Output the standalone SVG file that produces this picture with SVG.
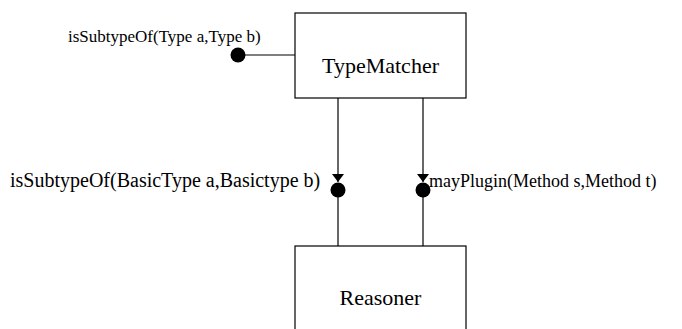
<svg xmlns="http://www.w3.org/2000/svg" width="682" height="329" viewBox="0 0 682 329">
<style>
.box{fill:#fff;stroke:#000;stroke-width:1.2}
.ln{stroke:#000;stroke-width:1.2;fill:none}
.big{font-family:"Liberation Serif",serif;font-size:22px;fill:#000;text-anchor:middle}
.sm{font-family:"Liberation Serif",serif;font-size:17px;fill:#000}
.md{font-family:"Liberation Serif",serif;font-size:20px;fill:#000}
.md2{font-family:"Liberation Serif",serif;font-size:18px;fill:#000}
</style>
<defs>
<marker id="ah" viewBox="0 0 8 12" refX="8" refY="6" markerWidth="8" markerHeight="12" orient="auto" markerUnits="userSpaceOnUse">
<path d="M0,0 L8,6 L0,12 z" fill="#000"/>
</marker>
</defs>
<rect width="682" height="329" fill="#fff"/>
<g id="connectors">
<line class="ln" x1="245" y1="55" x2="295" y2="55"/>
<circle cx="238" cy="55" r="7.5" fill="#000"/>
<line class="ln" x1="338" y1="98" x2="338" y2="182" marker-end="url(#ah)"/>
<circle cx="338" cy="190" r="7.5" fill="#000"/>
<line class="ln" x1="338" y1="197" x2="338" y2="246"/>
<line class="ln" x1="423" y1="98" x2="423" y2="182" marker-end="url(#ah)"/>
<circle cx="423" cy="190" r="7.5" fill="#000"/>
<line class="ln" x1="423" y1="197" x2="423" y2="246"/>
</g>
<g id="label1"><text class="sm" x="68" y="42">isSubtypeOf(Type a,Type b)</text></g>
<g id="label2"><text class="md" x="10" y="187">isSubtypeOf(BasicType a,Basictype b)</text></g>
<g id="label3"><text class="md2" x="429" y="187">mayPlugin(Method s,Method t)</text></g>
<g id="TypeMatcher">
<rect class="box" x="295" y="13" width="171" height="85"/>
<text class="big" x="380.5" y="73">TypeMatcher</text>
</g>
<g id="Reasoner">
<rect class="box" x="295" y="246" width="171" height="100"/>
<text class="big" x="380.5" y="305">Reasoner</text>
</g>
</svg>
